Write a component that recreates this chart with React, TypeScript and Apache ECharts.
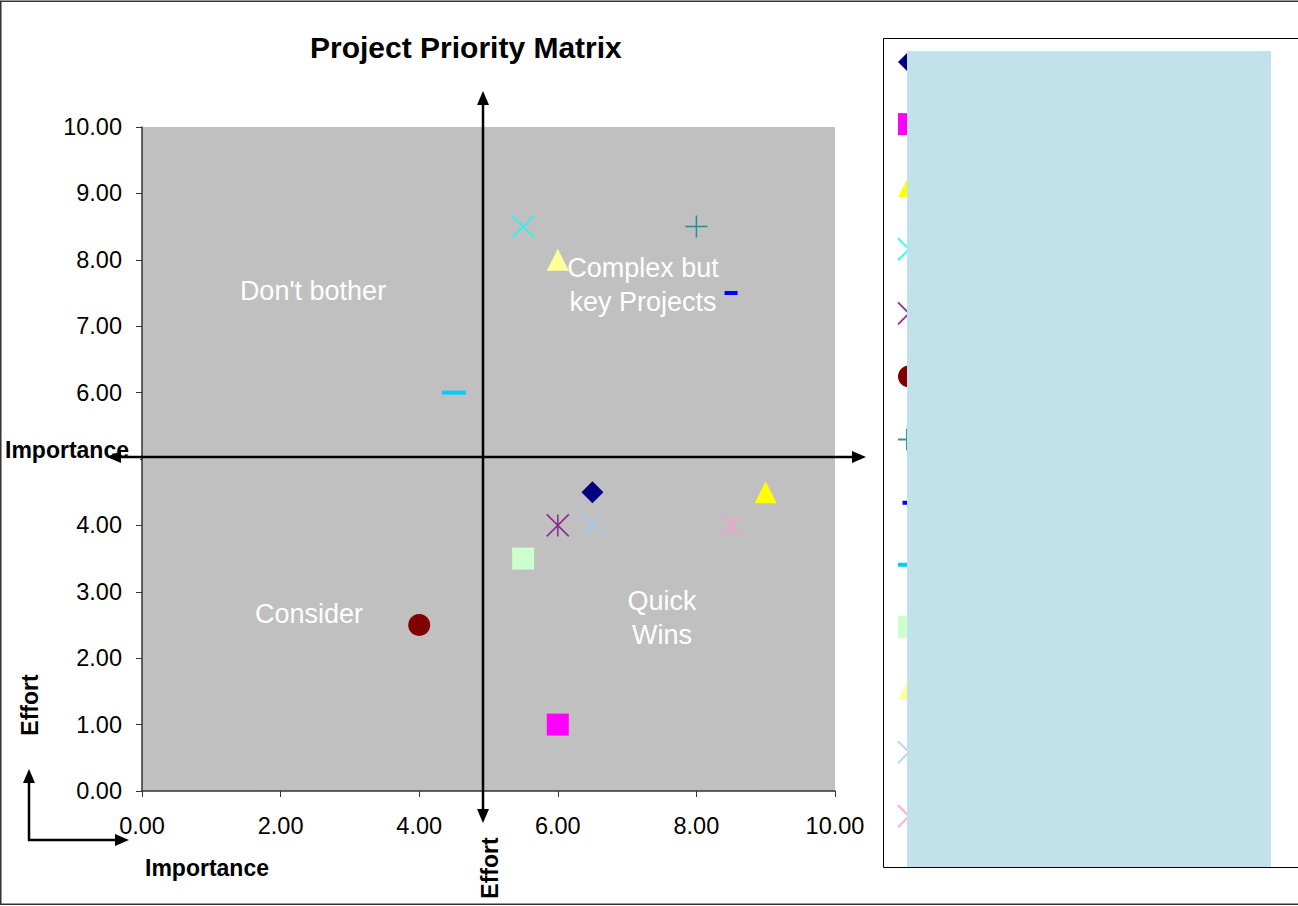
import React, { useEffect, useRef } from "react";
import * as echarts from "echarts";

// ---- data ----
const seriesNames = [
  "Project 1", "Project 2", "Project 3", "Project 4", "Project 5", "Project 6", "Project 7",
  "Project 8", "Project 9", "Project 10", "Project 11", "Project 12", "Project 13",
];
const importanceValues = [6.5, 6, 9, 5.5, 6, 4, 8, 8.5, 4.5, 5.5, 6, 6.5, 8.5];
const effortValues = [4.5, 1, 4.5, 8.5, 4, 2.5, 8.5, 7.5, 6, 3.5, 8, 4, 4];
const xTicks = [0, 2, 4, 6, 8, 10];
const yTicks = [0, 1, 2, 3, 4, 5, 6, 7, 8, 9, 10];
// the 5.00 label is hidden behind the "Importance" text box in the original
const hiddenYLabels = [5];

// ---- styles ----
const colors = [
  "#000080", "#FF00FF", "#FFFF00", "#00FFFF", "#800080", "#800000", "#008080",
  "#0000FF", "#00CCFF", "#CCFFCC", "#FFFF99", "#99CCFF", "#FF99CC",
];
const X_PATH = "path://M0 0L10 10M10 0L0 10";
const STAR_PATH = "path://M0 0L10 10M10 0L0 10M5 0L5 10";
const PLUS_PATH = "path://M5 0L5 10M0 5L10 5";
const symbols = [
  "diamond", "rect", "triangle", X_PATH, STAR_PATH, "circle", PLUS_PATH,
  "rect", "rect", "rect", "triangle", X_PATH, STAR_PATH,
];
const sizes: any[] = [22, 22, 22, 22, 22, 22, 22, [13, 4], [24, 4], 22, 22, 22, 22];
const stroked = [false, false, false, true, true, false, true, false, false, false, false, true, true];
// legend icons for the dash markers (22x22 box, bar centred)
const legendIcons: (string | null)[] = [
  null, null, null, null, null, null, "path://M9 0L9 22M0 11L22 11",
  "path://M0 0L0.01 0M4.5 9H17.5V13H4.5ZM21.99 22L22 22",
  "path://M0 0L0.01 0M0 9H22V13H0ZM21.99 22L22 22",
  null, null, null, null,
];

const FONT = "'Liberation Sans', Arial, sans-serif";

function arrowHead(tipX: number, tipY: number, dir: "up" | "down" | "left" | "right", len = 14, half = 6) {
  let pts: number[][] = [];
  if (dir === "up") pts = [[tipX, tipY], [tipX - half, tipY + len], [tipX + half, tipY + len]];
  if (dir === "down") pts = [[tipX, tipY], [tipX - half, tipY - len], [tipX + half, tipY - len]];
  if (dir === "left") pts = [[tipX, tipY], [tipX + len, tipY - half], [tipX + len, tipY + half]];
  if (dir === "right") pts = [[tipX, tipY], [tipX - len, tipY - half], [tipX - len, tipY + half]];
  return { type: "polygon", shape: { points: pts }, style: { fill: "#000" }, z: 50, silent: true };
}

export default function App() {
  const ref = useRef<HTMLDivElement>(null);
  useEffect(() => {
    if (!ref.current) return;
    const chart = echarts.init(ref.current, undefined, { renderer: "svg" });
    const series = seriesNames.map((name, i) => ({
      name,
      type: "scatter",
      data: [[importanceValues[i], effortValues[i]]],
      symbol: symbols[i],
      symbolSize: sizes[i],
      itemStyle: stroked[i]
        ? { color: colors[i], borderColor: colors[i], borderWidth: 1.5 }
        : { color: colors[i], opacity: 1 },
      emphasis: { disabled: true },
      z: 20,
    }));

    const whiteText = (text: string, x: number, y: number) => ({
      type: "text",
      x,
      y,
      z: 30,
      silent: true,
      style: { text, fill: "#fff", font: `27px ${FONT}`, textAlign: "center", textVerticalAlign: "middle" },
    });
    const boldText = (text: string, x: number, y: number, rotation = 0, align = "left") => ({
      type: "text",
      x,
      y,
      rotation,
      z: 45,
      silent: true,
      style: { text, fill: "#000", font: `bold 23px ${FONT}`, textAlign: align, textVerticalAlign: "middle" },
    });

    chart.setOption({
      animation: false,
      backgroundColor: "#fff",
      title: {
        text: "Project Priority Matrix",
        left: 310,
        top: 32,
        padding: 0,
        textStyle: { fontFamily: FONT, fontWeight: "bold", fontSize: 30, color: "#000" },
      },
      grid: {
        left: 142,
        top: 127,
        width: 693,
        height: 664,
        show: true,
        backgroundColor: "#C0C0C0",
        borderWidth: 0,
      },
      xAxis: {
        type: "value",
        min: xTicks[0],
        max: xTicks[xTicks.length - 1],
        interval: xTicks[1] - xTicks[0],
        splitLine: { show: false },
        axisLine: { show: true, onZero: false, lineStyle: { color: "#333", width: 1.5 } },
        axisTick: { show: true, length: 6, lineStyle: { color: "#333" } },
        axisLabel: {
          margin: 23,
          fontFamily: FONT,
          fontSize: 23.5,
          color: "#000",
          formatter: (v: number) => v.toFixed(2),
        },
      },
      yAxis: {
        type: "value",
        min: yTicks[0],
        max: yTicks[yTicks.length - 1],
        interval: yTicks[1] - yTicks[0],
        splitLine: { show: false },
        axisLine: { show: true, onZero: false, lineStyle: { color: "#333", width: 1.5 } },
        axisTick: { show: true, length: 6, lineStyle: { color: "#333" } },
        axisLabel: {
          margin: 20,
          fontFamily: FONT,
          fontSize: 23.5,
          color: "#000",
          formatter: (v: number) => (hiddenYLabels.includes(v) ? "" : v.toFixed(2)),
        },
      },
      legend: {
        orient: "vertical",
        left: 897,
        top: 51,
        padding: 0,
        itemWidth: 22,
        itemHeight: 22,
        itemGap: 40.1,
        selectedMode: false,
        data: seriesNames.map((name, i) => (legendIcons[i] ? { name, icon: legendIcons[i] } : { name })),
        textStyle: { fontFamily: FONT, fontSize: 22, color: "#000", lineHeight: 20 },
        z: 10,
      },
      graphic: [
        // outer chart border
        {
          type: "rect",
          shape: { x: 0.75, y: 1.25, width: 1310, height: 903 },
          style: { fill: "none", stroke: "#333", lineWidth: 1.5 },
          z: 1,
          silent: true,
        },
        // legend box
        {
          type: "rect",
          shape: { x: 883.5, y: 38.5, width: 500, height: 829 },
          style: { fill: "#fff", stroke: "#000", lineWidth: 1 },
          z: 1,
          silent: true,
        },
        // legend cover
        {
          type: "rect",
          shape: { x: 907, y: 51, width: 364, height: 816 },
          style: { fill: "#C1E2EA" },
          z: 100,
          silent: true,
        },
        // white box behind left "Importance" label
        {
          type: "rect",
          shape: { x: 2, y: 437, width: 138, height: 34 },
          style: { fill: "#fff" },
          z: 40,
          silent: true,
        },
        // crossing arrows
        { type: "line", shape: { x1: 483, y1: 100, x2: 483, y2: 815 }, style: { stroke: "#000", lineWidth: 2.5 }, z: 50, silent: true },
        arrowHead(483, 91, "up"),
        arrowHead(483, 823, "down"),
        { type: "line", shape: { x1: 116, y1: 457, x2: 857, y2: 457 }, style: { stroke: "#000", lineWidth: 2.5 }, z: 50, silent: true },
        arrowHead(107, 457, "left"),
        arrowHead(866, 457, "right"),
        // bottom-left L arrow
        { type: "polyline", shape: { points: [[29, 782], [29, 840], [116, 840]] }, style: { stroke: "#000", lineWidth: 2.5, fill: "none" }, z: 50, silent: true },
        arrowHead(29, 769, "up"),
        arrowHead(129, 840, "right"),
        // axis titles
        boldText("Importance", 5, 450),
        boldText("Importance", 145, 868),
        boldText("Effort", 30, 705, Math.PI / 2, "center"),
        boldText("Effort", 490, 868, Math.PI / 2, "center"),
        // quadrant labels
        whiteText("Don't bother", 313, 291),
        whiteText("Complex but", 643, 268),
        whiteText("key Projects", 643, 302),
        whiteText("Consider", 309, 614),
        whiteText("Quick", 662, 601),
        whiteText("Wins", 662, 635),
      ],
      series,
    });
    return () => chart.dispose();
  }, []);
  return (
    <div
      ref={ref}
      style={{ position: "fixed", left: 0, top: 0, width: 1298, height: 906, background: "#fff" }}
    />
  );
}
